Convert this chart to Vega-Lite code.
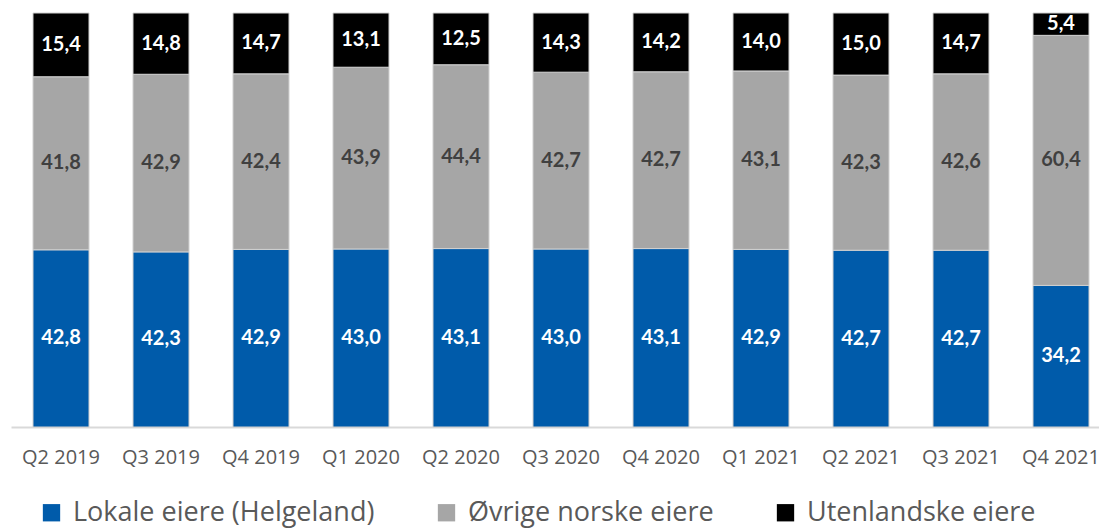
{
  "$schema": "https://vega.github.io/schema/vega-lite/v6.json",
  "width": 1100,
  "height": 414,
  "autosize": {"type": "none"},
  "padding": {"left": 11, "top": 13, "right": 0, "bottom": 104},
  "config": {
    "view": {"stroke": null},
    "font": "Lato",
    "locale": {"number": {"decimal": ",", "thousands": " ", "grouping": [3], "currency": ["", " kr"]}}
  },
  "data": {
    "values": [
      {"kvartal": "Q2 2019", "eier": "Lokale eiere (Helgeland)", "andel": 42.8},
      {"kvartal": "Q2 2019", "eier": "Øvrige norske eiere", "andel": 41.8},
      {"kvartal": "Q2 2019", "eier": "Utenlandske eiere", "andel": 15.4},
      {"kvartal": "Q3 2019", "eier": "Lokale eiere (Helgeland)", "andel": 42.3},
      {"kvartal": "Q3 2019", "eier": "Øvrige norske eiere", "andel": 42.9},
      {"kvartal": "Q3 2019", "eier": "Utenlandske eiere", "andel": 14.8},
      {"kvartal": "Q4 2019", "eier": "Lokale eiere (Helgeland)", "andel": 42.9},
      {"kvartal": "Q4 2019", "eier": "Øvrige norske eiere", "andel": 42.4},
      {"kvartal": "Q4 2019", "eier": "Utenlandske eiere", "andel": 14.7},
      {"kvartal": "Q1 2020", "eier": "Lokale eiere (Helgeland)", "andel": 43.0},
      {"kvartal": "Q1 2020", "eier": "Øvrige norske eiere", "andel": 43.9},
      {"kvartal": "Q1 2020", "eier": "Utenlandske eiere", "andel": 13.1},
      {"kvartal": "Q2 2020", "eier": "Lokale eiere (Helgeland)", "andel": 43.1},
      {"kvartal": "Q2 2020", "eier": "Øvrige norske eiere", "andel": 44.4},
      {"kvartal": "Q2 2020", "eier": "Utenlandske eiere", "andel": 12.5},
      {"kvartal": "Q3 2020", "eier": "Lokale eiere (Helgeland)", "andel": 43.0},
      {"kvartal": "Q3 2020", "eier": "Øvrige norske eiere", "andel": 42.7},
      {"kvartal": "Q3 2020", "eier": "Utenlandske eiere", "andel": 14.3},
      {"kvartal": "Q4 2020", "eier": "Lokale eiere (Helgeland)", "andel": 43.1},
      {"kvartal": "Q4 2020", "eier": "Øvrige norske eiere", "andel": 42.7},
      {"kvartal": "Q4 2020", "eier": "Utenlandske eiere", "andel": 14.2},
      {"kvartal": "Q1 2021", "eier": "Lokale eiere (Helgeland)", "andel": 42.9},
      {"kvartal": "Q1 2021", "eier": "Øvrige norske eiere", "andel": 43.1},
      {"kvartal": "Q1 2021", "eier": "Utenlandske eiere", "andel": 14.0},
      {"kvartal": "Q2 2021", "eier": "Lokale eiere (Helgeland)", "andel": 42.7},
      {"kvartal": "Q2 2021", "eier": "Øvrige norske eiere", "andel": 42.3},
      {"kvartal": "Q2 2021", "eier": "Utenlandske eiere", "andel": 15.0},
      {"kvartal": "Q3 2021", "eier": "Lokale eiere (Helgeland)", "andel": 42.7},
      {"kvartal": "Q3 2021", "eier": "Øvrige norske eiere", "andel": 42.6},
      {"kvartal": "Q3 2021", "eier": "Utenlandske eiere", "andel": 14.7},
      {"kvartal": "Q4 2021", "eier": "Lokale eiere (Helgeland)", "andel": 34.2},
      {"kvartal": "Q4 2021", "eier": "Øvrige norske eiere", "andel": 60.4},
      {"kvartal": "Q4 2021", "eier": "Utenlandske eiere", "andel": 5.4}
    ]
  },
  "transform": [
    {"calculate": "indexof(['Lokale eiere (Helgeland)','Øvrige norske eiere','Utenlandske eiere'], datum.eier)", "as": "rekkefolge"}
  ],
  "encoding": {
    "x": {
      "field": "kvartal",
      "type": "nominal",
      "sort": null,
      "title": null,
      "scale": {"paddingInner": 0.44, "paddingOuter": 0.22},
      "axis": {
        "labelAngle": 0,
        "labelFont": "Open Sans",
        "labelFontSize": 20,
        "labelColor": "#595959",
        "labelPadding": 20,
        "ticks": false,
        "domainColor": "#D9D9D9",
        "domainWidth": 2,
        "grid": false
      }
    },
    "y": {
      "field": "andel",
      "type": "quantitative",
      "stack": "zero",
      "scale": {"domain": [0, 100], "nice": false},
      "axis": null
    },
    "order": {"field": "rekkefolge", "type": "quantitative", "sort": "ascending"}
  },
  "layer": [
    {
      "mark": {"type": "bar", "stroke": "#D0D0D0", "strokeWidth": 1},
      "encoding": {
        "color": {
          "field": "eier",
          "type": "nominal",
          "scale": {
            "domain": ["Lokale eiere (Helgeland)", "Øvrige norske eiere", "Utenlandske eiere"],
            "range": ["#005BAA", "#A6A6A6", "#000000"]
          },
          "legend": {
            "title": null,
            "orient": "none",
            "legendX": 27,
            "legendY": 486,
            "direction": "horizontal",
            "symbolType": "square",
            "symbolSize": 300,
            "symbolStrokeWidth": 0,
            "labelFont": "Open Sans",
            "labelFontSize": 27,
            "labelColor": "#595959",
            "labelOffset": 8,
            "columnPadding": 58,
            "labelLimit": 400
          }
        }
      }
    },
    {
      "mark": {"type": "text", "font": "Lato", "fontWeight": "bold", "fontSize": 20, "baseline": "middle"},
      "encoding": {
        "y": {"field": "andel", "type": "quantitative", "stack": "zero", "bandPosition": 0.5},
        "text": {"field": "andel", "type": "quantitative", "format": ".1f"},
        "color": {
          "condition": {"test": "datum.eier === 'Øvrige norske eiere'", "value": "#404040"},
          "value": "#FFFFFF"
        }
      }
    }
  ]
}
